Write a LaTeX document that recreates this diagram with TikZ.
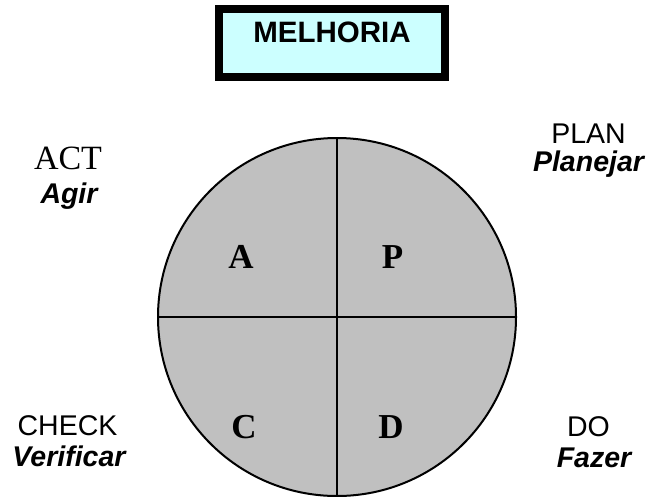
\documentclass[tikz,border=0pt]{standalone}
\usepackage{fontspec}
\setmainfont{Liberation Serif}
\newfontfamily\arialfont{Liberation Sans}
\definecolor{wheelgray}{RGB}{192,192,192}
\definecolor{boxcyan}{RGB}{204,255,255}

\begin{document}
\begin{tikzpicture}[
x=1pt, y=-1pt,
titlebox/.style={
draw,
line width=8pt,
fill=boxcyan,
minimum width=226pt,
minimum height=68pt,
inner sep=0pt,
text height=21pt,
text depth=21.5pt,
font=\arialfont\bfseries\fontsize{29.5}{31}\selectfont,
},
wheel/.style={
circle,
draw,
fill=wheelgray,
line width=2pt,
minimum size=358pt,
inner sep=0pt,
},
quarter/.style={anchor=base, font=\bfseries\fontsize{35}{35}\selectfont},
stage/.style={anchor=base, font=\arialfont\fontsize{28.5}{31}\selectfont},
stagept/.style={anchor=base, font=\arialfont\bfseries\itshape\fontsize{28.5}{31}\selectfont},
]
\useasboundingbox (0,0) rectangle (652,496);

% title
\node [titlebox] at (332,43) (melhoria) {MELHORIA};

% PDCA wheel
\node [wheel] at (337,317) (wheel) {};
\draw [line width=2.5pt] (wheel.north) -- (wheel.south);
\draw [line width=2.5pt] (wheel.west) -- (wheel.east);

\node [quarter] at (241,268) (qa) {A};
\node [quarter] at (392.5,268) (qp) {P};
\node [quarter] at (244,438) (qc) {C};
\node [quarter] at (391,438) (qd) {D};

% stage labels
\node [stage, font=\fontsize{34}{36}\selectfont] at (68,169) (act) {ACT};
\node [stagept] at (69,203) (agir) {Agir};
\node [stage] at (588.5,143.3) (plan) {PLAN};
\node [stagept] at (588.5,171.7) (planejar) {Planejar};
\node [stage] at (67.5,435.7) (check) {CHECK};
\node [stagept] at (69,466.7) (verificar) {Verificar};
\node [stage] at (588.5,436) (do) {DO};
\node [stagept] at (594,467) (fazer) {Fazer};

\end{tikzpicture}
\end{document}
